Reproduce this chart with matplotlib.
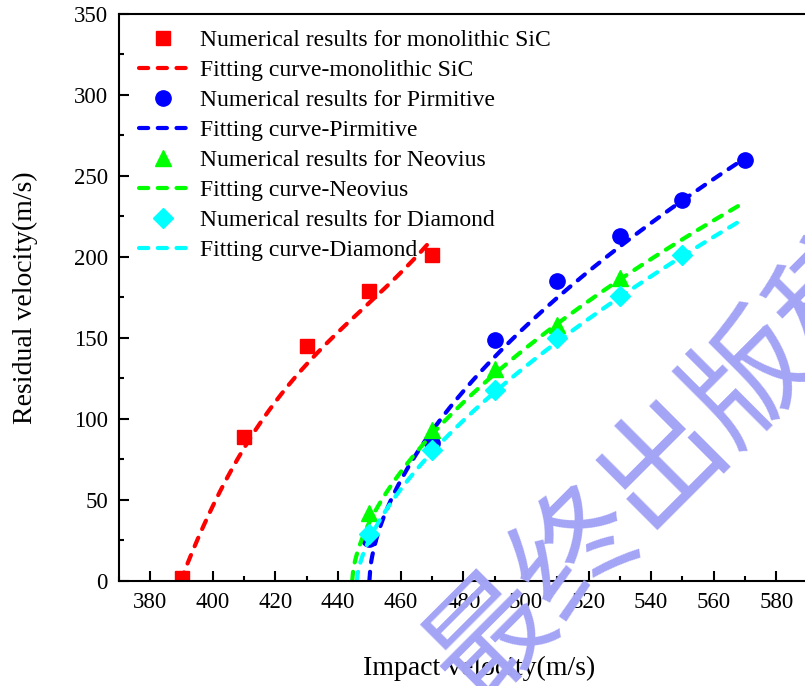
import numpy as np
import matplotlib
matplotlib.use('Agg')
import matplotlib.pyplot as plt
import matplotlib.ticker as ticker

plt.rcParams['font.family'] = 'Liberation Serif'

# numerical results (impact velocity, residual velocity), m/s
impact_sic = [390, 410, 430, 450, 470]
residual_sic = [2, 89, 145, 179, 201]
impact_pri = [450, 470, 490, 510, 530, 550, 570]
residual_pri = [26, 85, 149, 185, 213, 235, 260]
impact_neo = [450, 470, 490, 510, 530]
residual_neo = [42, 93, 131, 158, 187]
impact_dia = [450, 470, 490, 510, 530, 550]
residual_dia = [29, 81, 118, 150, 176, 201]

# fitted curves
# monolithic SiC: cubic in (v - v_bl), highest order first
sic_vbl = 389.7
sic_coef = [3.1425e-4, -0.055284, 5.0402, 0.0]
sic_vmax = 470
# lattices: vr = a * (v - v_bl) ** b  ->  [v_bl, a, b]
pri_fit = [450.0, 16.4, 0.578]
neo_fit = [444.5, 13.13, 0.596]
dia_fit = [446.0, 10.7, 0.631]
lattice_vmax = 570


def power_curve(params, vmax):
    vbl, a, b = params
    v = np.linspace(vbl, vmax, 400)
    return v, a * (v - vbl) ** b


fig = plt.figure(figsize=(8.05, 6.86), dpi=100)
ax = fig.add_axes([0.1478, 0.1531, 0.8944, 0.8265])

dash = (0, (2.2, 2.3))
line_kw = dict(linestyle=dash, linewidth=3, dash_capstyle='round')

ax.plot(impact_sic, residual_sic, 's', color='red', markersize=10,
        label='Numerical results for monolithic SiC')
v = np.linspace(sic_vbl, sic_vmax, 400)
ax.plot(v, np.polyval(sic_coef, v - sic_vbl), color='red',
        label='Fitting curve-monolithic SiC', **line_kw)

ax.plot(impact_pri, residual_pri, 'o', color='blue', markersize=11,
        label='Numerical results for Pirmitive')
ax.plot(*power_curve(pri_fit, lattice_vmax), color='blue',
        label='Fitting curve-Pirmitive', **line_kw)

ax.plot(impact_neo, residual_neo, '^', color='#00ff00', markersize=11,
        label='Numerical results for Neovius')
ax.plot(*power_curve(neo_fit, lattice_vmax), color='#00ff00',
        label='Fitting curve-Neovius', **line_kw)

ax.plot(impact_dia, residual_dia, 'D', color='cyan', markersize=10,
        label='Numerical results for Diamond')
ax.plot(*power_curve(dia_fit, lattice_vmax), color='cyan',
        label='Fitting curve-Diamond', **line_kw)

ax.set_xlim(370, 600)
ax.set_ylim(0, 350)
ax.xaxis.set_major_locator(ticker.MultipleLocator(20))
ax.xaxis.set_minor_locator(ticker.MultipleLocator(10))
ax.yaxis.set_major_locator(ticker.MultipleLocator(50))
ax.yaxis.set_minor_locator(ticker.MultipleLocator(25))
ax.tick_params(which='both', direction='in', top=False, right=False,
               width=1.5, labelsize=16.5, pad=8)
ax.tick_params(which='major', length=7)
ax.tick_params(which='minor', length=3.5)
for side in ax.spines.values():
    side.set_linewidth(1.5)

ax.set_xlabel('Impact velocity(m/s)', fontsize=20)
ax.set_ylabel('Residual velocity(m/s)', fontsize=20)
ax.xaxis.label.set_verticalalignment('center')
ax.yaxis.label.set_verticalalignment('center')
ax.xaxis.set_label_coords(0.5, -0.155)
ax.yaxis.set_label_coords(-0.1306, 0.5)

ax.legend(loc='upper left', bbox_to_anchor=(0.028, 0.973), frameon=False,
          fontsize=17, numpoints=1, handlelength=2.03, handletextpad=0.55,
          labelspacing=0.36, borderpad=0, borderaxespad=0)

# diagonal watermark across the lower right
fig.text(0.826, 0.322, '最终出版稿', rotation=45, rotation_mode='anchor',
         ha='center', va='center', fontsize=88, color='#a4a4f6',
         family=['Noto Sans CJK SC'], zorder=10)

fig.savefig('out.png', dpi=100)
